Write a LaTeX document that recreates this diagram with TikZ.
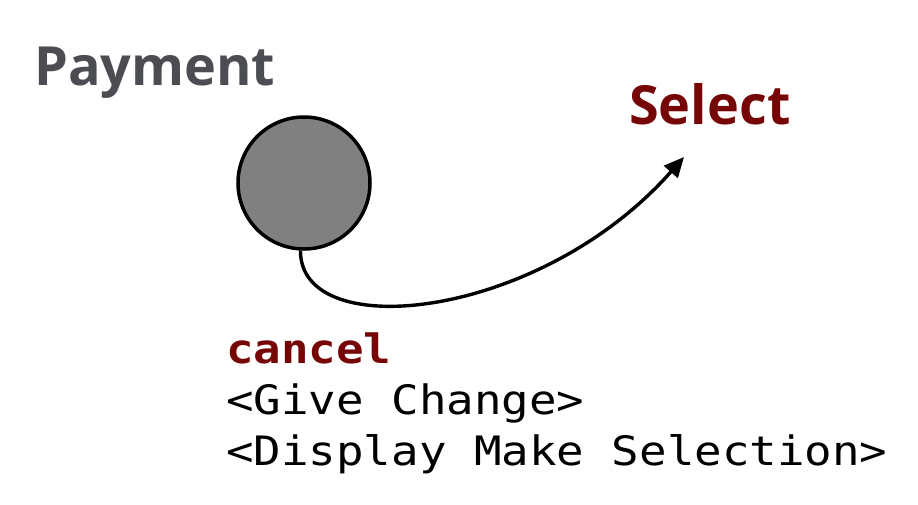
\documentclass[tikz,border=0pt]{standalone}
\usepackage{fontspec}
\usetikzlibrary{arrows.meta}
\setmainfont{Open Sans}
\newfontfamily\monofont[FakeStretch=1.13]{DejaVu Sans Mono}
\definecolor{darkred}{RGB}{118,6,6}
\definecolor{titlegrey}{RGB}{75,77,82}
\definecolor{stategrey}{RGB}{128,128,128}
\tikzset{
  title/.style={anchor=base west, inner sep=0pt, font=\fontsize{54}{60}\selectfont\bfseries},
  codeline/.style={anchor=base west, inner sep=0pt, font=\fontsize{40.5}{48}\monofont},
  statecircle/.style={circle, draw=black, line width=3.5pt, fill=stategrey, minimum size=132pt, inner sep=0pt},
  transition/.style={line width=3.4pt, -{Triangle[length=20pt,width=18pt]}}
}
\begin{document}
\begin{tikzpicture}[x=1pt,y=-1pt]
\useasboundingbox (0,0) rectangle (918,504);
\node[title, text=titlegrey] (payment) at (34,85) {Payment};
\node[title, text=darkred] (select) at (629,124) {Select};
\node[statecircle] (state) at (304,183) {};
\coordinate (tip) at (684,157);
\draw[transition] (state.267) .. controls (300,345) and (540,320) .. (tip);
\node[codeline, text=darkred, font=\fontsize{40.5}{48}\monofont\bfseries] (cancel) at (226,363) {cancel};
\node[codeline] (give) at (226,414) {<Give Change>};
\node[codeline] (display) at (226,465) {<Display Make Selection>};
\end{tikzpicture}
\end{document}
